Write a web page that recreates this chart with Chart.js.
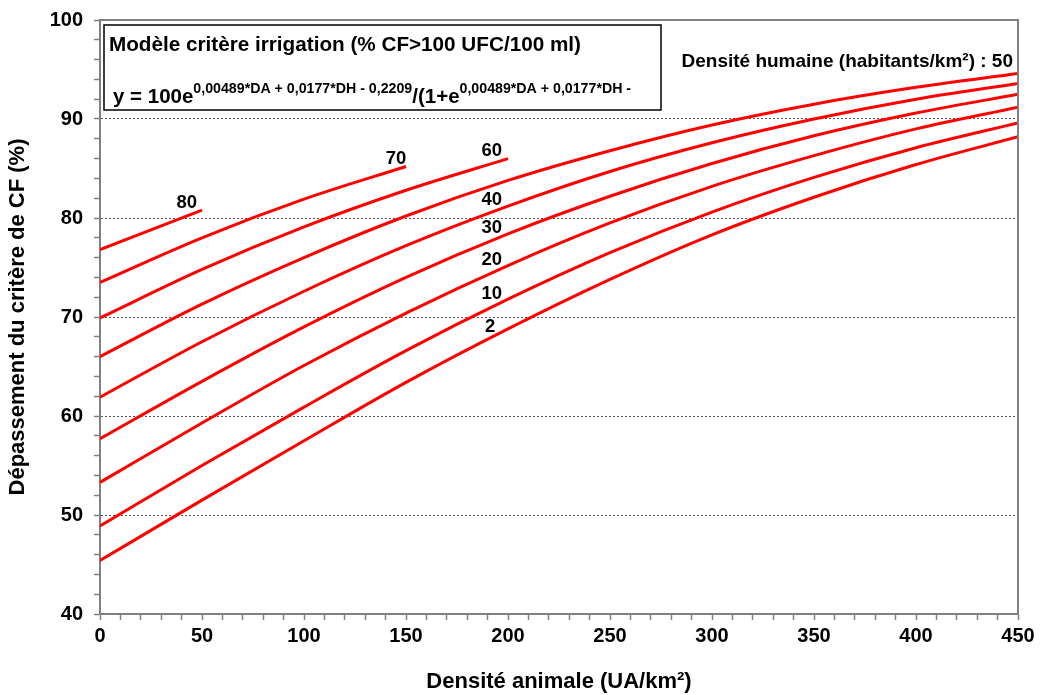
<!DOCTYPE html>
<html>
<head>
<meta charset="utf-8">
<script src="https://cdn.jsdelivr.net/npm/chart.js@4"></script>
<style>
html,body{margin:0;padding:0;background:#fff;}
#wrap{width:1040px;height:695px;}
</style>
</head>
<body>
<div id="wrap"><canvas id="c" width="1040" height="695"></canvas></div>
<script>
// Densité animale (UA/km²) sample points
const densiteAnimale = [0, 50, 100, 150, 200, 250, 300, 350, 400, 450];
// Dépassement du critère (%) for each densité humaine (habitants/km²)
const dh2  = [45.4, 51.5, 57.5, 63.4, 68.8, 73.8, 78.3, 82.1, 85.4, 88.2];
const dh10 = [48.9, 55.0, 60.9, 66.6, 71.8, 76.5, 80.6, 84.1, 87.1, 89.6];
const dh20 = [53.3, 59.3, 65.1, 70.4, 75.2, 79.5, 83.2, 86.3, 89.0, 91.2];
const dh30 = [57.7, 63.5, 69.0, 74.0, 78.4, 82.2, 85.5, 88.3, 90.6, 92.5];
const dh40 = [61.9, 67.5, 72.6, 77.2, 81.2, 84.7, 87.6, 90.0, 92.0, 93.6];
const dh50 = [66.0, 71.3, 76.0, 80.2, 83.8, 86.8, 89.4, 91.5, 93.2, 94.6];
const dh60 = [69.9, 74.8, 79.1, 82.8, 86.0];
const dh70 = [73.5, 78.0, 81.9, 85.2];
const dh80 = [76.8, 80.8];
const seriesNames = ['2', '10', '20', '30', '40', '50', '60', '70', '80'];
const seriesValues = [dh2, dh10, dh20, dh30, dh40, dh50, dh60, dh70, dh80];
const xTickLabels = [0, 50, 100, 150, 200, 250, 300, 350, 400, 450];
const yTickLabels = [40, 50, 60, 70, 80, 90, 100];

const FONT = "'Liberation Sans', Arial, sans-serif";

// curve label anchors (in data units)
const curveLabels = [
  {t: '80', x: 42.5, y: 81.5},
  {t: '70', x: 145.1, y: 86.0},
  {t: '60', x: 192.0, y: 86.8},
  {t: '40', x: 192.0, y: 81.8},
  {t: '30', x: 192.0, y: 79.0},
  {t: '20', x: 192.0, y: 75.8},
  {t: '10', x: 192.0, y: 72.3},
  {t: '2',  x: 191.2, y: 69.0}
];

const datasets = seriesValues.map((vals, i) => ({
  label: seriesNames[i],
  data: vals.map((v, j) => ({x: densiteAnimale[j], y: v})),
  borderColor: '#ff0000',
  borderWidth: 3,
  pointRadius: 0,
  fill: false,
  cubicInterpolationMode: 'monotone'
}));

const annot = {
  id: 'annot',
  afterDatasetsDraw(chart) {
    const ctx = chart.ctx;
    const a = chart.chartArea;
    const xs = chart.scales.x, ys = chart.scales.y;
    ctx.save();
    // top + right border of plot area
    ctx.strokeStyle = '#808080';
    ctx.lineWidth = 2;
    ctx.beginPath();
    ctx.moveTo(a.left, a.top);
    ctx.lineTo(a.right, a.top);
    ctx.lineTo(a.right, a.bottom);
    ctx.stroke();

    // model box
    ctx.fillStyle = '#fff';
    ctx.fillRect(104, 25, 557, 85);
    ctx.strokeStyle = '#000';
    ctx.lineWidth = 1.5;
    ctx.strokeRect(104, 25, 557, 85);

    ctx.fillStyle = '#000';
    ctx.textBaseline = 'alphabetic';
    ctx.textAlign = 'left';
    ctx.font = 'bold 20.7px ' + FONT;
    ctx.fillText('Modèle critère irrigation (% CF>100 UFC/100 ml)', 109, 51);

    // formula
    let x = 113;
    const base = 103, supBase = 93;
    const big = 'bold 20.5px ' + FONT, small = 'bold 14.2px ' + FONT;
    const parts = [
      [big, 'y = 100e', base],
      [small, '0,00489*DA + 0,0177*DH - 0,2209', supBase],
      [big, '/(1+e', base],
      [small, '0,00489*DA + 0,0177*DH -', supBase]
    ];
    parts.forEach(p => {
      ctx.font = p[0];
      ctx.fillText(p[1], x, p[2]);
      x += ctx.measureText(p[1]).width;
    });

    // human density caption
    ctx.font = 'bold 19px ' + FONT;
    ctx.textAlign = 'right';
    ctx.fillText('Densité humaine (habitants/km²) : 50', 1013, 67);

    // curve labels
    ctx.font = 'bold 18.5px ' + FONT;
    ctx.textAlign = 'center';
    ctx.textBaseline = 'middle';
    curveLabels.forEach(l => {
      ctx.fillText(l.t, xs.getPixelForValue(l.x), ys.getPixelForValue(l.y));
    });
    ctx.restore();
  }
};

function noPad(s) {
  s.paddingTop = 0; s.paddingBottom = 0; s.paddingLeft = 0; s.paddingRight = 0;
}

new Chart(document.getElementById('c'), {
  type: 'line',
  data: {datasets},
  options: {
    responsive: false,
    animation: false,
    events: [],
    layout: {padding: {top: 20, right: 22, bottom: 0, left: 0}},
    plugins: {legend: {display: false}, tooltip: {enabled: false}},
    scales: {
      x: {
        type: 'linear',
        min: 0, max: 450,
        afterFit(s) { s.height = 81; noPad(s); },
        ticks: {
          stepSize: 10,
          autoSkip: false,
          maxRotation: 0,
          padding: 4,
          color: '#000',
          font: {family: FONT, size: 20, weight: 'bold'},
          callback: v => xTickLabels.includes(v) ? String(v) : ''
        },
        grid: {drawOnChartArea: false, tickLength: 6, tickColor: '#808080', tickWidth: 1.5},
        border: {color: '#808080', width: 2},
        title: {
          display: true,
          text: 'Densité animale (UA/km²)',
          color: '#000',
          font: {family: FONT, size: 22, weight: 'bold'},
          padding: {top: 0, bottom: 0}
        }
      },
      y: {
        min: 40, max: 100,
        afterFit(s) { s.width = 100; noPad(s); },
        ticks: {
          stepSize: 2,
          autoSkip: false,
          padding: 11,
          color: '#000',
          font: {family: FONT, size: 20, weight: 'bold'},
          callback: v => yTickLabels.includes(v) ? String(v) : ''
        },
        grid: {
          drawOnChartArea: true,
          tickLength: 6,
          tickColor: '#808080',
          tickWidth: 1.5,
          lineWidth: 1,
          color: c => (c.tick && c.tick.value % 10 === 0 && c.tick.value > 40 && c.tick.value < 100) ? '#555' : 'rgba(0,0,0,0)'
        },
        border: {color: '#808080', width: 2, dash: [2, 2]},
        title: {
          display: true,
          text: 'Dépassement du critère de CF (%)',
          color: '#000',
          font: {family: FONT, size: 22, weight: 'bold'},
          padding: {top: 5, bottom: 0}
        }
      }
    }
  },
  plugins: [annot]
});
</script>
</body>
</html>
